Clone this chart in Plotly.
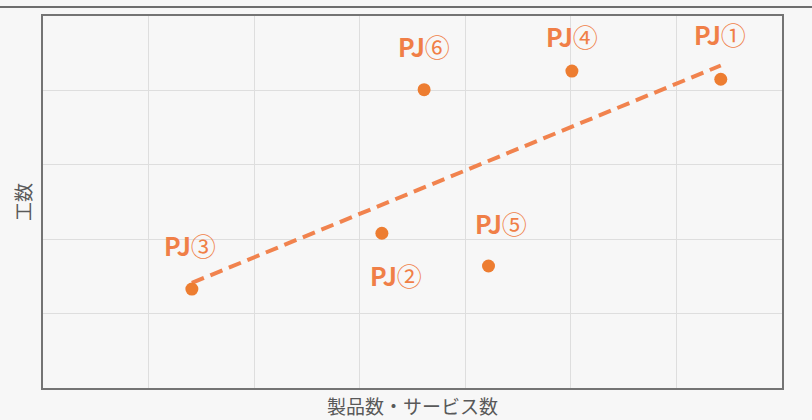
import numpy as np
import plotly.graph_objects as go

# ---- data ----
projects = ["PJ①", "PJ②", "PJ③", "PJ④", "PJ⑤", "PJ⑥"]
products = [6.42, 3.21, 1.41, 5.01, 4.22, 3.61]   # 製品数・サービス数
effort = [4.15, 2.08, 1.33, 4.26, 1.64, 4.01]     # 工数

x_title = "製品数・サービス数"
y_title = "工数"

# ---- styling ----
W, H = 812, 420
ML, MR, MT, MB = 43, 30, 16, 32
PW = W - ML - MR
PH = H - MT - MB
ORANGE = "#ed7d31"
LABEL = "#f07f47"
FONT = "Noto Sans CJK JP"
BG = "#f7f7f7"

# label pixel offsets (dx, dy up) relative to each point
label_shift = {
    "PJ①": (-1, 45), "PJ②": (14, -42), "PJ③": (-2, 44),
    "PJ④": (0, 35), "PJ⑤": (12, 43), "PJ⑥": (0, 44),
}

# linear trend (least squares)
xs = np.array(products)
ys = np.array(effort)
slope, intercept = np.polyfit(xs, ys, 1)
tx = np.array([xs.min(), xs.max()])
ty = slope * tx + intercept

fig = go.Figure()
fig.add_trace(go.Scatter(
    x=tx, y=ty, mode="lines",
    line=dict(color="#f1834e", width=4, dash="13px,7px"),
    hoverinfo="skip", showlegend=False,
))
fig.add_trace(go.Scatter(
    x=products, y=effort, mode="markers",
    marker=dict(color=ORANGE, size=13, line=dict(width=0)),
    text=projects, showlegend=False,
))

for name, px, py in zip(projects, products, effort):
    dx, dy = label_shift[name]
    fig.add_annotation(
        x=px, y=py, xref="x", yref="y",
        text="<b>PJ</b>" + name[2:], showarrow=False,
        xshift=dx, yshift=dy,
        font=dict(family=FONT, size=25, color=LABEL),
    )

# axis titles
fig.add_annotation(
    x=0.5, y=(H - MB - 405) / PH, xref="paper", yref="paper",
    xanchor="center", yanchor="middle",
    text=x_title, showarrow=False,
    font=dict(family=FONT, size=19, color="#595959"),
)
fig.add_annotation(
    x=(22 - ML) / PW, y=0.5, xref="paper", yref="paper",
    xanchor="center", yanchor="middle",
    text=y_title, showarrow=False, textangle=-90,
    font=dict(family=FONT, size=19, color="#595959"),
)

# top rule across the whole page
fig.add_shape(
    type="line", xref="paper", yref="paper",
    x0=-ML / PW, x1=(W - ML) / PW,
    y0=1 + 9 / PH, y1=1 + 9 / PH,
    line=dict(color="#6e6e6e", width=2),
)

axis_common = dict(
    showline=True, mirror=True, linecolor="#747474", linewidth=2,
    showgrid=True, gridcolor="#dedede", gridwidth=1,
    zeroline=False, showticklabels=False, ticks="",
)
fig.update_xaxes(range=[0, 7], dtick=1, **axis_common)
fig.update_yaxes(range=[0, 5], dtick=1, **axis_common)

fig.update_layout(
    width=W, height=H,
    margin=dict(l=ML, r=MR, t=MT, b=MB),
    paper_bgcolor=BG, plot_bgcolor=BG,
    font=dict(family=FONT),
    showlegend=False,
)

fig.write_html("out.html")
